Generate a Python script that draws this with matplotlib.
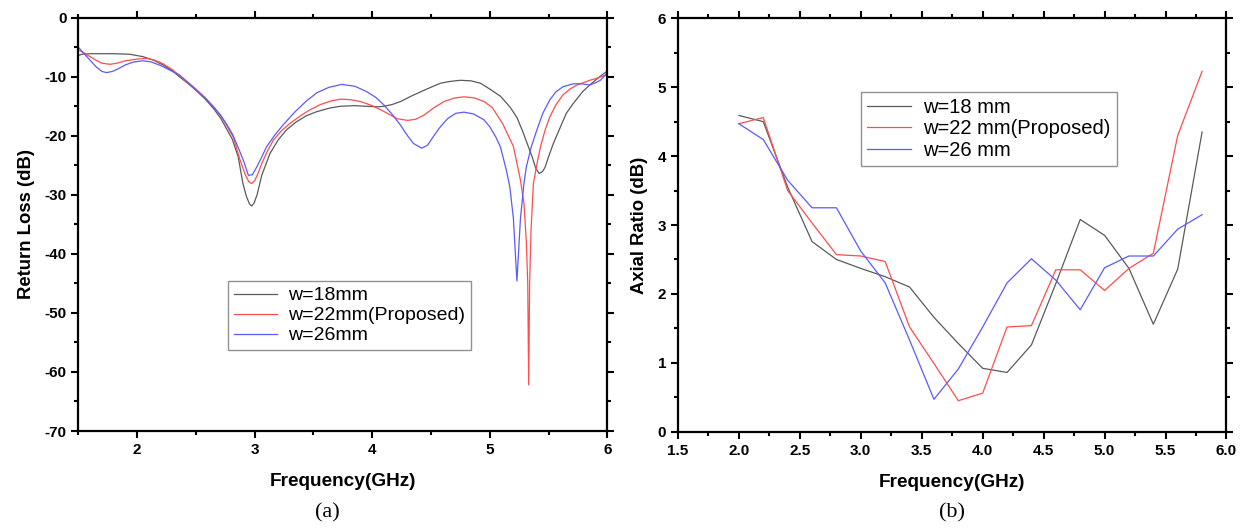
import matplotlib.pyplot as plt
from matplotlib.ticker import MultipleLocator

plt.rcParams["font.family"] = ["Liberation Sans", "DejaVu Sans"]
plt.rcParams["axes.unicode_minus"] = False

# (a) return loss, frequency in GHz / dB
rl_f_18 = [1.50, 1.53, 1.60, 1.80, 1.94, 2.05, 2.14, 2.22, 2.30, 2.36, 2.43, 2.50, 2.58, 2.65,
           2.71, 2.76, 2.81, 2.86, 2.90, 2.93, 2.955, 2.974, 2.995, 3.02, 3.06, 3.13, 3.20, 3.27,
           3.35, 3.44, 3.53, 3.64, 3.73, 3.85, 3.95, 4.05, 4.10, 4.17, 4.24, 4.34, 4.44, 4.52,
           4.58, 4.66, 4.75, 4.84, 4.92, 5.00, 5.09, 5.17, 5.23, 5.28, 5.33, 5.36, 5.39, 5.42,
           5.45, 5.47, 5.50, 5.54, 5.60, 5.65, 5.71, 5.79, 5.85, 5.92, 6.00]
rl_18 = [-6.4, -6.2, -6.1, -6.1, -6.2, -6.6, -7.2, -8.0, -9.0, -10.0, -11.1, -12.3, -13.8, -15.4,
         -17.0, -18.8, -20.6, -23.6, -28.1, -30.3, -31.5, -31.9, -31.4, -30.0, -26.7, -23.0, -20.7, -19.0,
         -17.7, -16.6, -15.9, -15.3, -15.0, -14.9, -15.0, -15.1, -15.0, -14.7, -14.2, -13.2, -12.3, -11.6,
         -11.1, -10.8, -10.6, -10.7, -11.1, -12.1, -13.3, -15.1, -16.9, -19.3, -22.0, -23.6, -25.5, -26.4,
         -26.0, -25.3, -23.5, -21.3, -18.5, -16.2, -14.5, -12.5, -11.4, -10.2, -9.0]

rl_f_22 = [1.50, 1.55, 1.60, 1.65, 1.70, 1.77, 1.83, 1.90, 2.00, 2.08, 2.15, 2.22, 2.30, 2.36,
           2.43, 2.50, 2.58, 2.65, 2.71, 2.76, 2.82, 2.875, 2.92, 2.95, 2.974, 3.00, 3.03, 3.06,
           3.11, 3.16, 3.23, 3.30, 3.39, 3.47, 3.56, 3.65, 3.73, 3.82, 3.90, 4.00, 4.10, 4.21,
           4.30, 4.37, 4.44, 4.52, 4.61, 4.70, 4.78, 4.87, 4.95, 5.02, 5.11, 5.20, 5.26, 5.29,
           5.31, 5.322, 5.33, 5.338, 5.35, 5.37, 5.40, 5.43, 5.47, 5.51, 5.56, 5.62, 5.68, 5.74,
           5.85, 5.92, 6.00]
rl_22 = [-5.45, -6.0, -6.6, -7.2, -7.7, -7.9, -7.7, -7.3, -7.0, -6.9, -7.2, -7.8, -8.8, -9.8,
         -11.0, -12.2, -13.6, -15.1, -16.6, -18.2, -20.3, -24.1, -26.6, -27.8, -28.1, -27.6, -26.3, -24.7,
         -22.5, -20.7, -19.1, -17.9, -16.6, -15.6, -14.7, -14.1, -13.8, -13.9, -14.2, -14.9, -15.9, -17.1,
         -17.4, -17.2, -16.5, -15.3, -14.2, -13.6, -13.4, -13.6, -14.2, -15.2, -18.0, -21.8, -27.5, -31.5,
         -38.0, -45.0, -62.2, -45.0, -36.0, -28.1, -24.8, -21.9, -19.0, -16.8, -14.8, -13.1, -12.1, -11.4,
         -10.6, -10.2, -9.6]

rl_f_26 = [1.50, 1.55, 1.60, 1.65, 1.70, 1.74, 1.79, 1.83, 1.90, 1.97, 2.05, 2.12, 2.20, 2.28,
           2.36, 2.43, 2.50, 2.58, 2.65, 2.71, 2.76, 2.81, 2.86, 2.91, 2.946, 2.98, 3.02, 3.06,
           3.10, 3.17, 3.24, 3.34, 3.44, 3.53, 3.63, 3.74, 3.85, 3.95, 4.03, 4.10, 4.17, 4.24,
           4.30, 4.35, 4.42, 4.47, 4.51, 4.57, 4.64, 4.71, 4.78, 4.86, 4.95, 5.00, 5.05, 5.09,
           5.14, 5.17, 5.20, 5.23, 5.26, 5.29, 5.31, 5.35, 5.40, 5.45, 5.51, 5.56, 5.62, 5.71,
           5.78, 5.85, 5.90, 5.94, 6.00]
rl_26 = [-5.0, -6.1, -7.2, -8.3, -9.1, -9.3, -9.1, -8.75, -8.0, -7.5, -7.3, -7.5, -8.1, -8.9,
         -9.7, -10.9, -12.1, -13.6, -15.1, -16.5, -18.0, -19.7, -22.0, -24.5, -26.7, -26.6, -25.2, -23.6,
         -21.9, -19.9, -18.2, -16.0, -14.1, -12.7, -11.8, -11.3, -11.6, -12.5, -13.5, -14.8, -16.4, -18.2,
         -20.0, -21.3, -22.1, -21.6, -20.4, -18.7, -17.1, -16.2, -16.0, -16.3, -17.3, -18.5, -20.2, -21.9,
         -25.8, -28.7, -34.0, -44.6, -34.0, -28.0, -25.3, -22.0, -19.0, -16.2, -13.9, -12.6, -11.7, -11.2,
         -11.2, -11.4, -11.0, -10.6, -9.3]

# (b) axial ratio, sampled every 0.2 GHz
ar_f = [2.0, 2.2, 2.4, 2.6, 2.8, 3.0, 3.2, 3.4, 3.6, 3.8, 4.0, 4.2, 4.4, 4.6, 4.8, 5.0, 5.2, 5.4, 5.6, 5.8]
ar_18 = [4.59, 4.50, 3.55, 2.76, 2.50, 2.37, 2.25, 2.10, 1.66, 1.28, 0.92, 0.86, 1.26, 2.15, 3.08, 2.85, 2.37, 1.56, 2.36, 4.35]
ar_22 = [4.47, 4.56, 3.50, 3.03, 2.57, 2.55, 2.47, 1.52, 0.99, 0.45, 0.56, 1.52, 1.54, 2.35, 2.35, 2.05, 2.37, 2.59, 4.30, 5.23]
ar_26 = [4.47, 4.24, 3.65, 3.25, 3.25, 2.62, 2.16, 1.33, 0.47, 0.91, 1.52, 2.16, 2.51, 2.20, 1.77, 2.38, 2.55, 2.55, 2.94, 3.15]

COLORS = ("#5a5a5a", "#ff4d4d", "#5a5aff")


def style_axes(ax):
    for spine in ax.spines.values():
        spine.set_linewidth(1.6)
    ax.tick_params(which="both", direction="out", top=True, right=True, width=1.5,
                   labeltop=False, labelright=False, labelsize=11)
    ax.tick_params(which="major", length=5)
    ax.tick_params(which="minor", length=3)
    for label in ax.get_xticklabels() + ax.get_yticklabels():
        label.set_fontweight("bold")


def add_legend(ax, anchor, size):
    leg = ax.legend(loc="upper left", bbox_to_anchor=anchor, bbox_transform=fig.transFigure,
                    fontsize=size, frameon=True, fancybox=False, edgecolor="#777777", borderaxespad=0,
                    handlelength=2.2, labelspacing=0.12, borderpad=0.3, handletextpad=0.6)
    leg.get_frame().set_linewidth(1.0)


fig = plt.figure(figsize=(12.41, 5.31), dpi=100)

ax1 = fig.add_axes([0.0631, 0.1883, 0.4264, 0.7784])
for f, v, c, lab in zip((rl_f_18, rl_f_22, rl_f_26), (rl_18, rl_22, rl_26), COLORS,
                        ("w=18mm", "w=22mm(Proposed)", "w=26mm")):
    ax1.plot(f, v, color=c, lw=0.9, label=lab)
ax1.set_xlim(1.5, 6)
ax1.set_ylim(-70, 0)
ax1.xaxis.set_major_locator(MultipleLocator(1))
ax1.xaxis.set_minor_locator(MultipleLocator(0.5))
ax1.yaxis.set_major_locator(MultipleLocator(10))
ax1.yaxis.set_minor_locator(MultipleLocator(5))
ax1.set_xticks([2, 3, 4, 5, 6])
ax1.set_xlabel("Frequency(GHz)", fontsize=13.7, fontweight="bold", labelpad=12)
ax1.set_ylabel("Return Loss (dB)", fontsize=13.3, fontweight="bold", labelpad=7)
style_axes(ax1)
add_legend(ax1, (0.1837, 0.4708), 14)

ax2 = fig.add_axes([0.5463, 0.1870, 0.4420, 0.7785])
for v, c, lab in zip((ar_18, ar_22, ar_26), COLORS, ("w=18 mm", "w=22 mm(Proposed)", "w=26 mm")):
    ax2.plot(ar_f, v, color=c, lw=0.9, label=lab)
ax2.set_xlim(1.5, 6.0)
ax2.set_ylim(0, 6)
ax2.xaxis.set_major_locator(MultipleLocator(0.5))
ax2.xaxis.set_minor_locator(MultipleLocator(0.25))
ax2.yaxis.set_major_locator(MultipleLocator(1))
ax2.yaxis.set_minor_locator(MultipleLocator(0.5))
ax2.xaxis.set_major_formatter(lambda x, pos: f"{x:.1f}")
ax2.set_xlabel("Frequency(GHz)", fontsize=13.7, fontweight="bold", labelpad=12)
ax2.set_ylabel("Axial Ratio (dB)", fontsize=13.3, fontweight="bold", labelpad=7)
style_axes(ax2)
add_legend(ax2, (0.6938, 0.8267), 14.5)

fig.text(0.2640, 0.026, "(a)", fontsize=16, family="Liberation Serif", ha="center")
fig.text(0.7668, 0.026, "(b)", fontsize=16, family="Liberation Serif", ha="center")

fig.savefig("out.png", dpi=100)
